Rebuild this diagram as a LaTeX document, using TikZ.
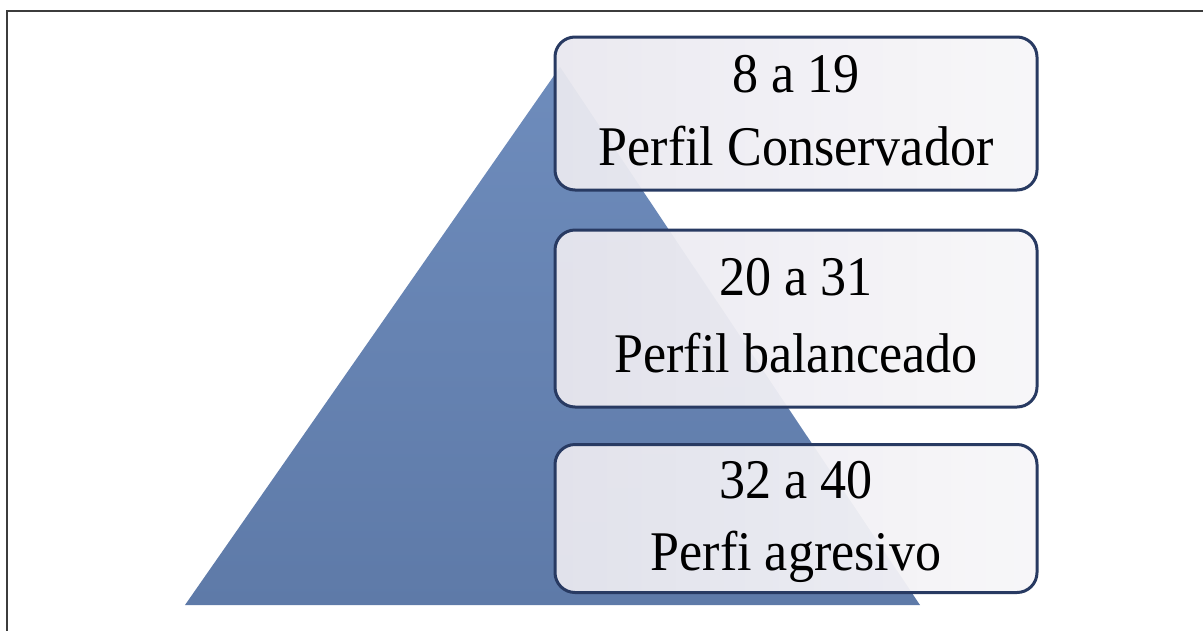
\documentclass[tikz,border=0pt]{standalone}
\usepackage{fontspec}
\setmainfont{Liberation Serif}
\definecolor{triTop}{RGB}{110,140,188}
\definecolor{triBot}{RGB}{94,122,168}
\definecolor{boxline}{RGB}{40,58,98}
\definecolor{boxL}{RGB}{233,232,239}
\definecolor{boxR}{RGB}{247,246,249}
\definecolor{framec}{RGB}{60,60,60}
\begin{document}
\begin{tikzpicture}[x=1pt,y=-1pt,
  box/.style={draw=boxline, line width=3pt, rounded corners=20pt, left color=boxL, right color=boxR, fill opacity=0.95, draw opacity=1, minimum width=482pt, inner sep=0pt},
  lbl/.style={font=\fontsize{56}{64}\selectfont, xscale=0.93, anchor=base, text=black, inner sep=0pt},
  frame/.style={draw=framec, line width=2pt}]
\useasboundingbox (0,0) rectangle (1203,630);
\draw[frame] (6.5,640) |- (1215,10.5);
\coordinate (apex) at (560,67);
\coordinate (bl) at (185,605);
\coordinate (br) at (920,605);
\shade[top color=triTop, bottom color=triBot] (apex) -- (br) -- (bl) -- cycle;
\node[box, minimum height=153pt] (b1) at (796,113.5) {};
\node[box, minimum height=177pt] (b2) at (796,318.5) {};
\node[box, minimum height=148pt] (b3) at (796,518.5) {};
\node[lbl] (t1a) at (796,92) {8 a 19};
\node[lbl] (t1b) at (796,165) {Perfil Conservador};
\node[lbl] (t2a) at (796,295) {20 a 31};
\node[lbl] (t2b) at (796,372) {Perfil balanceado};
\node[lbl] (t3a) at (796,498) {32 a 40};
\node[lbl] (t3b) at (796,570) {Perfi agresivo};
\end{tikzpicture}
\end{document}
